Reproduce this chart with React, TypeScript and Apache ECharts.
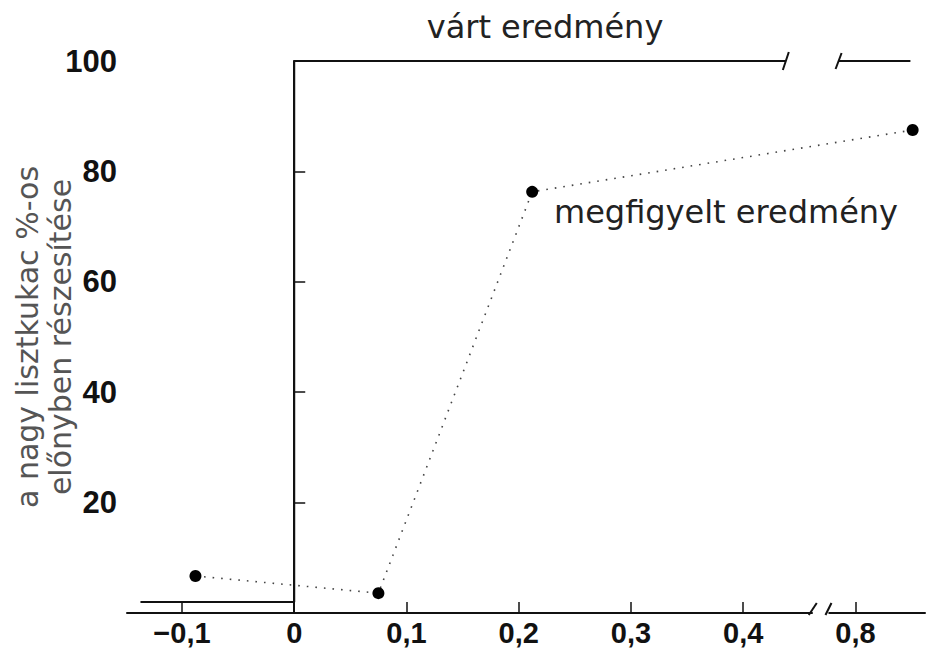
import React, { useEffect, useRef } from "react";
import * as echarts from "echarts";

// ---- data ----
// x tick values (real) and their labels; the axis is broken between 0.45 and 0.75
const xTickValues = [-0.1, 0, 0.1, 0.2, 0.3, 0.4, 0.8];
const xTickLabels = ["−0,1", "0", "0,1", "0,2", "0,3", "0,4", "0,8"];
const yTickValues = [20, 40, 60, 80, 100];
const yTickLabels = ["20", "40", "60", "80", "100"];

// expected result ("várt eredmény"), step function, drawn in two pieces around the break
const expectedX1 = [-0.137, 0, 0, 0.438];
const expectedY1 = [2, 2, 100, 100];
const expectedX2 = [0.785, 0.849];
const expectedY2 = [100, 100];

// observed result ("megfigyelt eredmény")
const observedX = [-0.088, 0.075, 0.212, 0.851];
const observedY = [6.7, 3.6, 76.3, 87.5];

// axis break: real values in (BREAK_LO, BREAK_HI) are removed from the scale
const BREAK_LO = 0.45;
const BREAK_HI = 0.75;
const toAxis = (x: number) => (x >= BREAK_HI ? x - (BREAK_HI - BREAK_LO) : x);
// gap drawn in the x axis line (axis units)
const axisGap = [0.462, 0.476];

const LABEL_FONT = "'Liberation Sans', Arial, sans-serif";
const TEXT_FONT = "'DejaVu Sans', 'Liberation Sans', sans-serif";

export default function App() {
  const ref = useRef<HTMLDivElement>(null);

  useEffect(() => {
    if (!ref.current) return;
    const chart = echarts.init(ref.current, undefined, { renderer: "svg" });

    const xAxisTicks = xTickValues.map(toAxis);
    const labelFor = (v: number) => {
      const i = xAxisTicks.findIndex((t) => Math.abs(t - v) < 1e-6);
      return i >= 0 ? xTickLabels[i] : "";
    };
    const yLabelFor = (v: number) => {
      const i = yTickValues.findIndex((t) => Math.abs(t - v) < 1e-6);
      return i >= 0 ? yTickLabels[i] : "";
    };

    const lineColor = "#111";

    const option: any = {
      animation: false,
      backgroundColor: "#fff",
      grid: {
        left: 127,
        right: 5,
        top: 61,
        bottom: 36,
        containLabel: false,
        outerBoundsMode: "none",
      },
      xAxis: {
        type: "value",
        min: -0.149,
        max: 0.562,
        axisLine: { show: true, onZero: false, lineStyle: { color: lineColor, width: 2 } },
        axisTick: {
          show: true,
          inside: true,
          length: 11,
          customValues: xAxisTicks,
          lineStyle: { color: lineColor, width: 1.5 },
        },
        axisLabel: {
          show: true,
          customValues: xAxisTicks,
          formatter: (v: number) => labelFor(v),
          margin: 6,
          fontFamily: LABEL_FONT,
          fontSize: 29,
          lineHeight: 28,
          fontWeight: "bold",
          color: "#111",
          hideOverlap: false,
        },
        splitLine: { show: false },
      },
      yAxis: {
        type: "value",
        min: 0,
        max: 100,
        name: "a nagy lisztkukac %-os\nelőnyben részesítése",
        nameLocation: "middle",
        nameRotate: 90,
        nameGap: 50,
        nameMoveOverlap: false,
        nameTextStyle: {
          fontFamily: TEXT_FONT,
          fontSize: 30,
          lineHeight: 33,
          color: "#555",
        },
        axisLine: { show: true, lineStyle: { color: lineColor, width: 2 } },
        axisTick: {
          show: true,
          inside: true,
          length: 11,
          customValues: yTickValues,
          lineStyle: { color: lineColor, width: 1.5 },
        },
        axisLabel: {
          show: true,
          customValues: yTickValues,
          formatter: (v: number) => yLabelFor(v),
          margin: 10,
          fontFamily: LABEL_FONT,
          fontSize: 31,
          fontWeight: "bold",
          color: "#111",
        },
        splitLine: { show: false },
      },
      series: [
        {
          name: "várt eredmény",
          type: "line",
          data: expectedX1.map((x, i) => [toAxis(x), expectedY1[i]]),
          symbol: "none",
          lineStyle: { color: lineColor, width: 2 },
          z: 3,
        },
        {
          name: "várt eredmény ",
          type: "line",
          data: expectedX2.map((x, i) => [toAxis(x), expectedY2[i]]),
          symbol: "none",
          lineStyle: { color: lineColor, width: 2 },
          z: 3,
        },
        {
          name: "megfigyelt eredmény",
          type: "line",
          data: observedX.map((x, i) => [toAxis(x), observedY[i]]),
          symbol: "circle",
          symbolSize: 12,
          itemStyle: { color: "#000" },
          lineStyle: { color: "#444", width: 1.6, type: [1.6, 7] },
          z: 4,
        },
      ],
    };

    chart.setOption(option);

    const p = (x: number, y: number) => chart.convertToPixel({ gridIndex: 0 }, [x, y]) as number[];
    const slash = (cx: number, cy: number, h: number, w: number) => ({
      type: "line",
      z: 101,
      shape: { x1: cx - w, y1: cy + h, x2: cx + w, y2: cy - h },
      style: { stroke: lineColor, lineWidth: 2 },
    });

    const g1 = p(axisGap[0], 0);
    const g2 = p(axisGap[1], 0);
    const t1 = p(toAxis(expectedX1[expectedX1.length - 1]), 100);
    const t2 = p(toAxis(expectedX2[0]), 100);

    chart.setOption({
      graphic: [
        {
          type: "rect",
          z: 100,
          shape: { x: g1[0], y: g1[1] - 3, width: g2[0] - g1[0], height: 6 },
          style: { fill: "#fff" },
        },
        slash(g1[0], g1[1] - 4, 6, 4),
        slash(g2[0], g2[1] - 4, 6, 3),
        slash(t1[0], t1[1], 9, 3),
        slash(t2[0], t2[1], 8, 3),
        {
          type: "text",
          z: 102,
          x: 545,
          y: 27,
          style: {
            text: "várt eredmény",
            fontFamily: TEXT_FONT,
            fontSize: 32,
            fill: "#222",
            align: "center",
            verticalAlign: "middle",
          },
        },
        {
          type: "text",
          z: 102,
          x: 726,
          y: 212,
          style: {
            text: "megfigyelt eredmény",
            fontFamily: TEXT_FONT,
            fontSize: 32,
            fill: "#222",
            align: "center",
            verticalAlign: "middle",
          },
        },
      ],
    });

    return () => chart.dispose();
  }, []);

  return (
    <div
      ref={ref}
      style={{ position: "fixed", left: 0, top: 0, width: 930, height: 649, background: "#fff" }}
    />
  );
}
